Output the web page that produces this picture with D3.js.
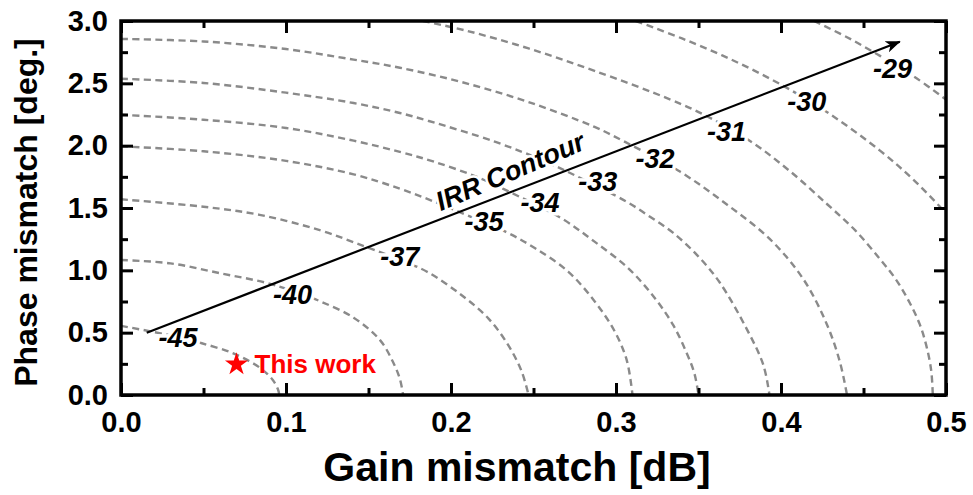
<!DOCTYPE html>
<html>
<head>
<meta charset="utf-8">
<script src="https://cdn.jsdelivr.net/npm/d3@7"></script>
<style>
  html, body { margin: 0; padding: 0; background: #fff; }
  svg { display: block; }
</style>
</head>
<body>
<svg id="chart" width="973" height="495"></svg>
<script>
// Axis ticks
const xTicks = [0, 0.1, 0.2, 0.3, 0.4, 0.5];
const xMinorTicks = [0.05, 0.15, 0.25, 0.35, 0.45];
const yTicks = [0, 0.5, 1.0, 1.5, 2.0, 2.5, 3.0];
const yMinorTicks = [0.25, 0.75, 1.25, 1.75, 2.25, 2.75];

// IRR contour levels [dB] and the (gain mismatch [dB], phase mismatch [deg]) points of each contour
const irrLevels = [-45, -40, -37, -35, -34, -33, -32, -31, -30, -29];
const irr45 = [[0,0.555],[0.02,0.505],[0.035,0.465],[0.049,0.415],[0.066,0.345],[0.078,0.27],[0.086,0.2],[0.092,0.12],[0.095,0.05],[0.096,0]];
const irr40 = [[0,1.083],[0.03,1.056],[0.06,0.977],[0.088,0.9],[0.105,0.83],[0.121,0.75],[0.141,0.62],[0.157,0.44],[0.165,0.26],[0.169,0.13],[0.171,0]];
const irr37 = [[0,1.57],[0.05,1.51],[0.084,1.445],[0.121,1.32],[0.148,1.19],[0.17,1.08],[0.186,0.985],[0.2065,0.8],[0.2226,0.615],[0.2347,0.4],[0.2428,0.19],[0.247,0]];
const irr35 = [[0,1.995],[0.05,1.955],[0.1,1.878],[0.141,1.77],[0.169,1.655],[0.19,1.55],[0.21,1.44],[0.233,1.31],[0.251,1.177],[0.271,0.99],[0.287,0.752],[0.299,0.515],[0.3065,0.28],[0.31,0]];
const irr34 = [[0,2.248],[0.05,2.208],[0.1,2.142],[0.141,2.04],[0.169,1.95],[0.19,1.87],[0.2165,1.745],[0.24,1.6],[0.267,1.417],[0.287,1.23],[0.3075,1.016],[0.3236,0.776],[0.3347,0.56],[0.3425,0.347],[0.3475,0.174],[0.35,0]];
const irr33 = [[0,2.537],[0.05,2.503],[0.1,2.425],[0.141,2.342],[0.169,2.262],[0.186,2.2],[0.227,2.03],[0.257,1.874],[0.28,1.73],[0.3065,1.55],[0.3206,1.43],[0.3347,1.3],[0.35,1.11],[0.363,0.9],[0.3792,0.53],[0.3893,0.241],[0.393,0]];
const irr32 = [[0,2.856],[0.05,2.836],[0.1,2.775],[0.141,2.69],[0.169,2.625],[0.2065,2.51],[0.247,2.35],[0.287,2.15],[0.3055,2.03],[0.339,1.79],[0.367,1.53],[0.3933,1.25],[0.4135,0.93],[0.4277,0.57],[0.4358,0.26],[0.44,0]];
const irr31 = [[0.183,3.0],[0.21,2.92],[0.247,2.78],[0.287,2.6],[0.333,2.37],[0.353,2.25],[0.381,2.04],[0.405,1.8],[0.428,1.53],[0.445,1.32],[0.46,1.09],[0.47,0.92],[0.478,0.74],[0.484,0.57],[0.488,0.4],[0.491,0.2],[0.492,0]];
const irr30 = [[0.312,3.0],[0.34,2.86],[0.37,2.69],[0.4,2.49],[0.43,2.25],[0.46,1.96],[0.48,1.73],[0.5,1.46]];
const irr29 = [[0.42,3.0],[0.44,2.87],[0.46,2.72],[0.48,2.56],[0.5,2.37]];
const contours = [irr45, irr40, irr37, irr35, irr34, irr33, irr32, irr31, irr30, irr29];

// Where each level's value is written (data coordinates)
const labelAnchors = [[0.0345,0.461],[0.104,0.81],[0.169,1.109],[0.22,1.39],[0.254,1.544],[0.289,1.717],[0.3236,1.90],[0.367,2.112],[0.4156,2.353],[0.4676,2.623]];

// Arrow showing the direction of rising IRR
const arrowStart = [0.0156, 0.5];
const arrowEnd = [0.472, 2.834];
const arrowText = "IRR Contour";

// Measured operating point
const thisWork = [0.070, 0.246];
const thisWorkText = "This work";

const xTitle = "Gain mismatch [dB]";
const yTitle = "Phase mismatch [deg.]";

const font = "'Liberation Sans', Arial, Helvetica, sans-serif";
const plot = { left: 121, right: 946, top: 21, bottom: 395 };

const x = d3.scaleLinear().domain([0, 0.5]).range([plot.left, plot.right]);
const y = d3.scaleLinear().domain([0, 3]).range([plot.bottom, plot.top]);

const svg = d3.select('#chart');
svg.append('rect').attr('width', 973).attr('height', 495).attr('fill', '#fff');

const defs = svg.append('defs');
defs.append('clipPath').attr('id', 'plotClip')
  .append('rect')
  .attr('x', plot.left).attr('y', plot.top)
  .attr('width', plot.right - plot.left).attr('height', plot.bottom - plot.top);

defs.append('marker')
  .attr('id', 'arrowHead')
  .attr('viewBox', '0 -7 16 14')
  .attr('refX', 14).attr('refY', 0)
  .attr('markerWidth', 16).attr('markerHeight', 14)
  .attr('markerUnits', 'userSpaceOnUse')
  .attr('orient', 'auto')
  .append('path')
  .attr('d', 'M0,-6 L15,0 L0,6 L4,0 Z')
  .attr('fill', '#000');

// Dashed IRR contours
const line = d3.line()
  .x(d => x(d[0]))
  .y(d => y(d[1]))
  .curve(d3.curveCatmullRom.alpha(0.5));

svg.append('g')
  .attr('clip-path', 'url(#plotClip)')
  .selectAll('path')
  .data(contours)
  .join('path')
  .attr('d', line)
  .attr('fill', 'none')
  .attr('stroke', '#8a8a8a')
  .attr('stroke-width', 2.4)
  .attr('stroke-dasharray', '7,4.5');

// Level labels, with a white halo that breaks the dashed lines
svg.append('g')
  .selectAll('text')
  .data(irrLevels)
  .join('text')
  .attr('x', (d, i) => x(labelAnchors[i][0]))
  .attr('y', (d, i) => y(labelAnchors[i][1]))
  .attr('dy', '0.36em')
  .attr('text-anchor', 'middle')
  .attr('font-family', font)
  .attr('font-size', 27)
  .attr('font-weight', 'bold')
  .attr('font-style', 'italic')
  .attr('fill', '#000')
  .attr('stroke', '#fff')
  .attr('stroke-width', 7)
  .attr('paint-order', 'stroke')
  .text(d => String(d));

// Arrow and its caption
const ax1 = x(arrowStart[0]), ay1 = y(arrowStart[1]);
const ax2 = x(arrowEnd[0]), ay2 = y(arrowEnd[1]);
svg.append('line')
  .attr('x1', ax1).attr('y1', ay1)
  .attr('x2', ax2).attr('y2', ay2)
  .attr('stroke', '#000')
  .attr('stroke-width', 2.2)
  .attr('marker-end', 'url(#arrowHead)');

const angle = Math.atan2(ay2 - ay1, ax2 - ax1) * 180 / Math.PI;
svg.append('text')
  .attr('transform', `translate(${x(0.2358)},${y(1.797)}) rotate(${angle - 2})`)
  .attr('dy', '0.36em')
  .attr('text-anchor', 'middle')
  .attr('font-family', font)
  .attr('font-size', 27)
  .attr('font-weight', 'bold')
  .attr('font-style', 'italic')
  .attr('fill', '#000')
  .attr('stroke', '#fff')
  .attr('stroke-width', 5)
  .attr('paint-order', 'stroke')
  .text(arrowText);

// Operating point of this work
svg.append('path')
  .attr('d', d3.symbol().type(d3.symbolStar).size(165)())
  .attr('transform', `translate(${x(thisWork[0])},${y(thisWork[1])})`)
  .attr('fill', '#ff0000');

svg.append('text')
  .attr('x', x(thisWork[0]) + 18)
  .attr('y', y(thisWork[1]) + 9)
  .attr('font-family', font)
  .attr('font-size', 26)
  .attr('font-weight', 'bold')
  .attr('fill', '#ff0000')
  .text(thisWorkText);

// Axes with inward ticks on all four sides
function styleAxis(g) {
  g.select('.domain').remove();
  g.selectAll('.tick line').attr('stroke', '#000').attr('stroke-width', 3);
  g.selectAll('.tick text')
    .attr('font-family', font)
    .attr('font-size', 29)
    .attr('font-weight', 'bold')
    .attr('fill', '#000');
}
const fmt = d3.format('.1f');

svg.append('g').attr('transform', `translate(0,${plot.bottom})`)
  .call(d3.axisBottom(x).tickValues(xTicks).tickSize(-12).tickPadding(16).tickFormat(fmt))
  .call(styleAxis);
svg.append('g').attr('transform', `translate(0,${plot.bottom})`)
  .call(d3.axisBottom(x).tickValues(xMinorTicks).tickSize(-7).tickFormat(''))
  .call(styleAxis);
svg.append('g').attr('transform', `translate(0,${plot.top})`)
  .call(d3.axisTop(x).tickValues(xTicks).tickSize(-12).tickFormat(''))
  .call(styleAxis);
svg.append('g').attr('transform', `translate(0,${plot.top})`)
  .call(d3.axisTop(x).tickValues(xMinorTicks).tickSize(-7).tickFormat(''))
  .call(styleAxis);

svg.append('g').attr('transform', `translate(${plot.left},0)`)
  .call(d3.axisLeft(y).tickValues(yTicks).tickSize(-12).tickPadding(13).tickFormat(fmt))
  .call(styleAxis);
svg.append('g').attr('transform', `translate(${plot.left},0)`)
  .call(d3.axisLeft(y).tickValues(yMinorTicks).tickSize(-7).tickFormat(''))
  .call(styleAxis);
svg.append('g').attr('transform', `translate(${plot.right},0)`)
  .call(d3.axisRight(y).tickValues(yTicks).tickSize(-12).tickFormat(''))
  .call(styleAxis);
svg.append('g').attr('transform', `translate(${plot.right},0)`)
  .call(d3.axisRight(y).tickValues(yMinorTicks).tickSize(-7).tickFormat(''))
  .call(styleAxis);

// Plot frame
svg.append('rect')
  .attr('x', plot.left).attr('y', plot.top)
  .attr('width', plot.right - plot.left).attr('height', plot.bottom - plot.top)
  .attr('fill', 'none')
  .attr('stroke', '#000')
  .attr('stroke-width', 3.5);

// Axis titles
svg.append('text')
  .attr('x', 517).attr('y', 481)
  .attr('text-anchor', 'middle')
  .attr('font-family', font)
  .attr('font-size', 41)
  .attr('font-weight', 'bold')
  .attr('fill', '#000')
  .text(xTitle);

svg.append('text')
  .attr('transform', `translate(37,${(38 + 387) / 2}) rotate(-90)`)
  .attr('text-anchor', 'middle')
  .attr('font-family', font)
  .attr('font-size', 32)
  .attr('font-weight', 'bold')
  .attr('fill', '#000')
  .text(yTitle);
</script>
</body>
</html>
